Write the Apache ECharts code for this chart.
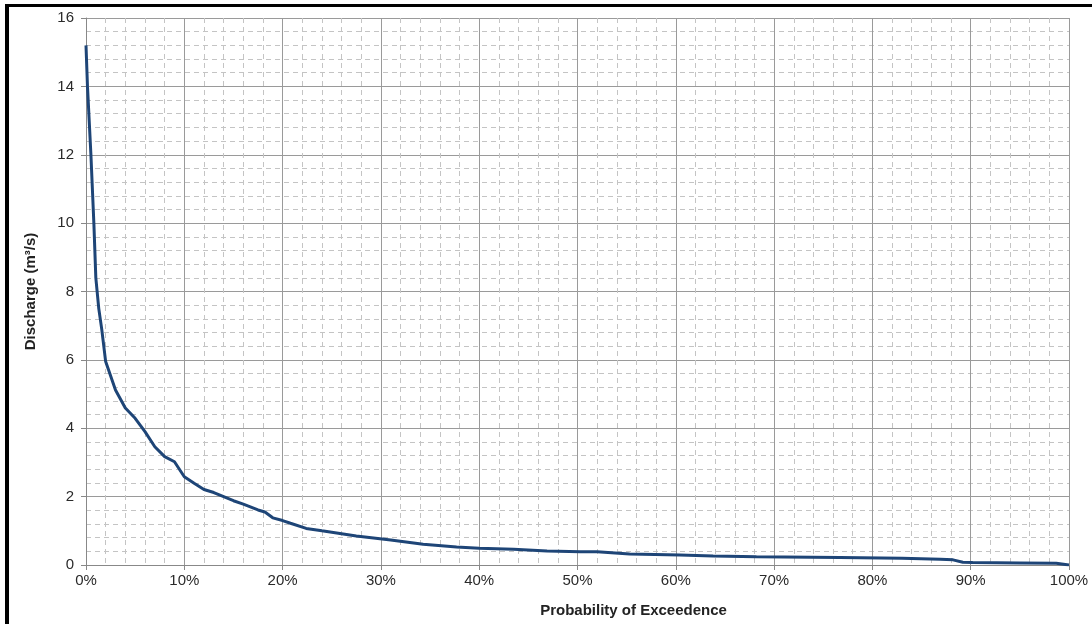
<!DOCTYPE html>
<html>
<head>
<meta charset="utf-8">
<script src="https://cdn.jsdelivr.net/npm/echarts@6/dist/echarts.min.js"></script>
<style>
html,body{margin:0;padding:0;background:#fff;}
#chart{position:absolute;left:0;top:0;width:1092px;height:624px;}
#frame{position:absolute;left:5px;top:4px;width:1087px;height:620px;border-top:3px solid #000;border-left:4px solid #000;box-sizing:border-box;pointer-events:none;}
</style>
</head>
<body>
<div id="chart"></div>
<div id="frame"></div>
<script>
const probability = [0, 0.15, 0.5, 0.8, 1.0, 1.3, 1.6, 2.0, 3.0, 4.0, 5.0, 6.0, 7.0, 8.0, 9.0, 10.0, 11.0, 12.0, 13.0, 14.0, 15.0, 16.0, 17.5, 18.2, 19.0, 20.0, 20.8, 22.4, 24.0, 27.5, 31.0, 34.3, 37.7, 40.0, 43.5, 46.9, 50.3, 52.0, 55.3, 60.4, 63.8, 68.2, 76.7, 83.0, 86.9, 88.2, 89.2, 90.2, 95.0, 98.7, 100];
const discharge   = [15.2, 14.0, 12.0, 10.0, 8.4, 7.5, 6.9, 5.95, 5.12, 4.59, 4.29, 3.9, 3.46, 3.17, 3.02, 2.58, 2.39, 2.21, 2.12, 2.0, 1.88, 1.78, 1.61, 1.55, 1.38, 1.3, 1.22, 1.07, 1.0, 0.85, 0.73, 0.61, 0.53, 0.49, 0.46, 0.41, 0.39, 0.39, 0.32, 0.29, 0.26, 0.24, 0.22, 0.2, 0.17, 0.15, 0.08, 0.07, 0.06, 0.05, 0.0];
const xTickLabels = ['0%','10%','20%','30%','40%','50%','60%','70%','80%','90%','100%'];
const yTicks = [0, 2, 4, 6, 8, 10, 12, 14, 16];

const seriesData = probability.map((p, i) => [p, discharge[i]]);
const chart = echarts.init(document.getElementById('chart'));
const fam = 'Liberation Sans, Arial, sans-serif';
const labelFont = {color: '#2a2a2a', fontSize: 15, fontFamily: fam};
chart.setOption({
  animation: false,
  grid: {left: 86, right: 23, top: 18, bottom: 59, show: false},
  xAxis: {
    type: 'value', min: 0, max: 100, interval: 10,
    name: 'Probability of Exceedence', nameLocation: 'middle', nameGap: 38,
    nameTextStyle: {fontWeight: 'bold', fontSize: 15, color: '#222', fontFamily: fam, padding: [0, 0, 0, 112]},
    axisLine: {show: true, lineStyle: {color: '#888', width: 1}},
    axisTick: {show: true, length: 5, lineStyle: {color: '#888'}},
    axisLabel: Object.assign({margin: 8, formatter: v => xTickLabels[Math.round(v / 10)]}, labelFont),
    splitLine: {show: true, lineStyle: {color: '#9a9a9a', width: 1}},
    minorTick: {show: false, splitNumber: 5},
    minorSplitLine: {show: true, lineStyle: {color: '#c4c4c4', width: 1, type: [5, 4]}}
  },
  yAxis: {
    type: 'value', min: 0, max: 16, interval: 2,
    name: 'Discharge (m³/s)', nameLocation: 'middle', nameGap: 48,
    nameTextStyle: {fontWeight: 'bold', fontSize: 15, color: '#222', fontFamily: fam},
    axisLine: {show: true, lineStyle: {color: '#888', width: 1}},
    axisTick: {show: true, length: 5, lineStyle: {color: '#888'}},
    axisLabel: Object.assign({margin: 12, formatter: v => String(yTicks[Math.round(v / 2)])}, labelFont),
    splitLine: {show: true, lineStyle: {color: '#9a9a9a', width: 1}},
    minorTick: {show: false, splitNumber: 5},
    minorSplitLine: {show: true, lineStyle: {color: '#c4c4c4', width: 1, type: [5, 4]}}
  },
  series: [{
    type: 'line', data: seriesData, showSymbol: false, smooth: false,
    lineStyle: {color: '#1e4577', width: 3}
  }]
});
</script>
</body>
</html>
